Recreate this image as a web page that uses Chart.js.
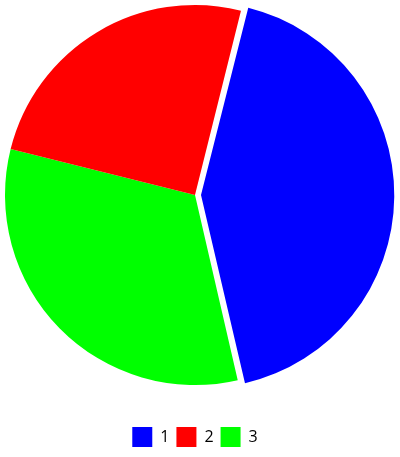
<!DOCTYPE html>
<html>
<head>
<meta charset="utf-8">
<script src="https://cdn.jsdelivr.net/npm/chart.js@4.4.1/dist/chart.umd.min.js"></script>
<style>
  html, body { margin: 0; padding: 0; background: #fff; }
  #wrap { width: 400px; height: 457px; }
</style>
</head>
<body>
<div id="wrap"><canvas id="myChart"></canvas></div>
<script>
const labels = ['1', '2', '3'];
const values = [17, 10, 13];
const colors = ['#0000ff', '#ff0000', '#00ff00'];
// chart.js moves an arc by offset/4, so 24 -> about 6px
const offsets = [24, 0, 0];

// the original goes round the other way, so draw 1, then 3, then 2
const order = [0, 2, 1];

const ctx = document.getElementById('myChart');

new Chart(ctx, {
  type: 'pie',
  data: {
    labels: order.map(i => labels[i]),
    datasets: [{
      data: order.map(i => values[i]),
      backgroundColor: order.map(i => colors[i]),
      offset: order.map(i => offsets[i]),
      borderWidth: 0
    }]
  },
  options: {
    responsive: true,
    maintainAspectRatio: false,
    animation: false,
    rotation: 14,
    radius: 190,
    layout: { padding: { right: 10 } },
    plugins: {
      tooltip: { enabled: false },
      legend: {
        position: 'bottom',
        title: {
          display: true,
          text: ' ',
          font: { size: 10 },
          padding: { top: 0, bottom: 18 }
        },
        labels: {
          sort: (a, b) => labels.indexOf(a.text) - labels.indexOf(b.text),
          boxWidth: 20,
          boxHeight: 20,
          padding: 7,
          color: '#000',
          font: { family: 'Open Sans', size: 16 }
        }
      }
    }
  }
});
</script>
</body>
</html>
